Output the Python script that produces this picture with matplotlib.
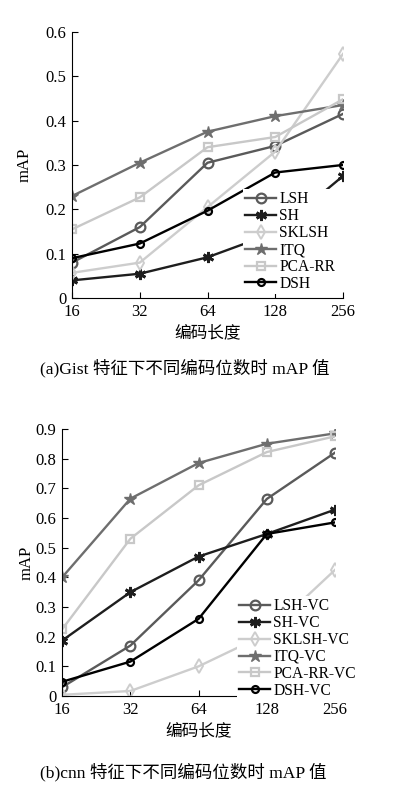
import matplotlib
matplotlib.use('Agg')
import matplotlib.pyplot as plt

plt.rcParams['font.family'] = ['Liberation Serif', 'Noto Sans CJK SC']
plt.rcParams['xtick.direction'] = 'in'
plt.rcParams['ytick.direction'] = 'in'

bits = [16, 32, 64, 128, 256]
bit_labels = ['16', '32', '64', '128', '256']

# (a) Gist
gist_names = ['LSH', 'SH', 'SKLSH', 'ITQ', 'PCA-RR', 'DSH']
gist_lsh = [0.08, 0.16, 0.305, 0.343, 0.415]
gist_sh = [0.04, 0.055, 0.092, 0.148, 0.275]
gist_sklsh = [0.057, 0.08, 0.205, 0.33, 0.55]
gist_itq = [0.23, 0.305, 0.375, 0.41, 0.435]
gist_pcarr = [0.155, 0.227, 0.34, 0.363, 0.448]
gist_dsh = [0.09, 0.123, 0.197, 0.283, 0.30]

# (b) cnn
cnn_names = ['LSH-VC', 'SH-VC', 'SKLSH-VC', 'ITQ-VC', 'PCA-RR-VC', 'DSH-VC']
cnn_lsh = [0.03, 0.17, 0.39, 0.664, 0.82]
cnn_sh = [0.187, 0.35, 0.47, 0.546, 0.628]
cnn_sklsh = [0.004, 0.017, 0.10, 0.21, 0.425]
cnn_itq = [0.40, 0.665, 0.785, 0.85, 0.885]
cnn_pcarr = [0.225, 0.53, 0.71, 0.822, 0.875]
cnn_dsh = [0.048, 0.116, 0.26, 0.546, 0.585]

styles = [
    dict(color='#5a5a5a', marker='o', ms=7, mfc='none', mew=1.6),
    dict(color='#1e1e1e', marker=(6, 2, 0), ms=8, mew=2.0),
    dict(color='#cdcdcd', marker='d', ms=7, mfc='none', mew=1.4),
    dict(color='#6e6e6e', marker='*', ms=9, mew=1.0),
    dict(color='#c8c8c8', marker='s', ms=6, mfc='none', mew=1.6),
    dict(color='#000000', marker='o', ms=5, mfc='none', mew=1.6),
]

fig = plt.figure(figsize=(3.96, 7.95), dpi=100)


def draw(ax, series, names, ymax, yticks, leg_anchor, ylab_x):
    for vals, name, st in zip(series, names, styles):
        ax.plot(bits, vals, lw=1.7, label=name, **st)
    ax.set_xscale('log', base=2)
    ax.set_xticks(bits)
    ax.set_xticklabels(bit_labels)
    ax.minorticks_off()
    ax.set_xlim(16, 256)
    ax.set_ylim(0, ymax)
    ax.set_yticks(yticks)
    ax.set_yticklabels([('%g' % t) for t in yticks])
    ax.spines['top'].set_visible(False)
    ax.spines['right'].set_visible(False)
    ax.tick_params(labelsize=12, length=4, pad=4)
    ax.set_xlabel('编码长度', fontsize=12, labelpad=4)
    ax.set_ylabel('mAP', fontsize=12)
    ax.yaxis.set_label_coords(ylab_x, 0.5)
    leg = ax.legend(loc='upper left', bbox_to_anchor=leg_anchor, fontsize=11.2,
                    handlelength=2.0, handletextpad=0.2, labelspacing=0.06,
                    borderpad=0.15, borderaxespad=0.0, frameon=True, fancybox=False)
    leg.get_frame().set_edgecolor('none')
    leg.get_frame().set_facecolor('white')
    leg.get_frame().set_alpha(1.0)


ax1 = fig.add_axes([0.182, 0.625, 0.684, 0.335])
draw(ax1, [gist_lsh, gist_sh, gist_sklsh, gist_itq, gist_pcarr, gist_dsh],
     gist_names, 0.6, [0, 0.1, 0.2, 0.3, 0.4, 0.5, 0.6], (0.63, 0.41), -0.145)

ax2 = fig.add_axes([0.157, 0.1245, 0.689, 0.336])
draw(ax2, [cnn_lsh, cnn_sh, cnn_sklsh, cnn_itq, cnn_pcarr, cnn_dsh],
     cnn_names, 0.9, [0, 0.1, 0.2, 0.3, 0.4, 0.5, 0.6, 0.7, 0.8, 0.9], (0.64, 0.375), -0.10)

fig.text(0.1, 1 - 368 / 795, '(a)Gist 特征下不同编码位数时 mAP 值', fontsize=12.6,
         va='center', ha='left')
fig.text(0.1, 1 - 772 / 795, '(b)cnn 特征下不同编码位数时 mAP 值', fontsize=12.6,
         va='center', ha='left')

fig.savefig('out.png', dpi=100)
